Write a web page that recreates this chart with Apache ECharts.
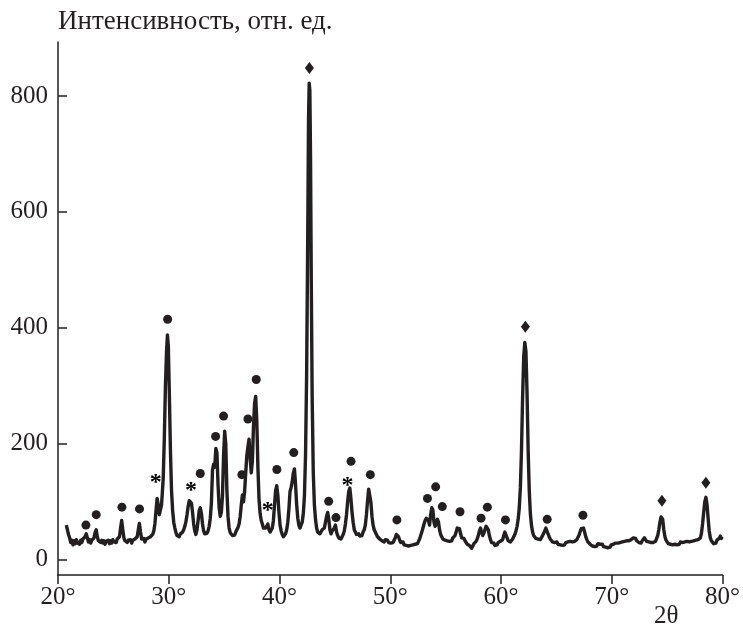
<!DOCTYPE html>
<html>
<head>
<meta charset="utf-8">
<title>XRD</title>
<script src="https://cdn.jsdelivr.net/npm/echarts@6/dist/echarts.min.js"></script>
<style>
  html, body { margin: 0; padding: 0; background: #fff; }
  #chart { width: 743px; height: 626px; }
</style>
</head>
<body>
<div id="chart"></div>
<script>
  // скан 2θ / интенсивность
  const scanA = [
    [20.75, 60], [20.85, 52], [20.95, 44], [21.05, 38], [21.15, 30], [21.25, 34], [21.35, 26], [21.45, 33],
    [21.55, 28], [21.65, 35], [21.75, 29], [21.85, 32], [21.95, 27], [22.05, 34], [22.15, 30], [22.25, 36],
    [22.35, 33], [22.45, 40], [22.55, 45], [22.65, 38], [22.75, 31], [22.85, 35], [22.95, 29], [23.05, 34],
    [23.15, 31], [23.25, 38], [23.35, 47], [23.45, 52], [23.55, 40], [23.65, 33], [23.75, 36], [23.85, 30],
    [23.95, 34], [24.05, 29], [24.15, 33], [24.25, 27], [24.35, 32], [24.45, 30], [24.55, 34], [24.65, 28],
    [24.75, 33], [24.85, 29], [24.95, 35], [25.05, 31], [25.15, 34], [25.25, 30], [25.35, 36], [25.45, 33],
    [25.55, 40], [25.65, 55], [25.75, 68], [25.85, 52], [25.95, 38], [26.05, 33], [26.15, 36], [26.25, 30],
    [26.35, 34], [26.45, 31], [26.55, 35], [26.65, 29], [26.75, 34], [26.85, 32], [26.95, 36], [27.05, 33],
    [27.15, 40], [27.25, 52], [27.35, 63], [27.45, 48], [27.55, 36], [27.65, 33], [27.75, 37], [27.85, 31],
    [27.95, 36], [28.05, 33], [28.15, 38], [28.25, 35], [28.35, 40], [28.45, 37], [28.55, 44], [28.65, 50],
    [28.75, 62], [28.85, 85], [28.95, 106], [29.05, 95], [29.15, 78], [29.25, 80], [29.35, 95], [29.5, 140],
    [29.6, 210], [29.7, 300], [29.8, 360], [29.88, 388], [29.96, 370]
  ]
  const scanB = [
    [30.05, 290], [30.15, 190], [30.25, 120], [30.35, 85], [30.45, 65], [30.55, 55], [30.65, 47], [30.75, 42],
    [30.85, 44], [30.95, 40], [31.05, 45], [31.15, 43], [31.25, 48], [31.35, 52], [31.45, 58], [31.55, 66],
    [31.65, 78], [31.75, 92], [31.85, 102], [31.95, 105], [32.05, 98], [32.15, 82], [32.25, 62], [32.35, 50],
    [32.45, 44], [32.55, 52], [32.65, 68], [32.75, 85], [32.85, 90], [32.95, 80], [33.05, 62], [33.15, 50],
    [33.25, 45], [33.35, 42], [33.45, 46], [33.55, 50], [33.65, 58], [33.75, 72], [33.85, 98], [33.95, 155],
    [34.05, 165], [34.15, 160], [34.25, 192], [34.35, 185], [34.45, 130], [34.55, 90], [34.65, 75], [34.75, 82],
    [34.85, 110], [34.95, 180], [35.05, 222], [35.15, 200], [35.25, 120], [35.35, 75], [35.45, 55], [35.55, 47],
    [35.65, 44], [35.75, 42], [35.85, 45], [35.95, 43], [36.05, 48], [36.15, 50], [36.25, 56], [36.35, 62],
    [36.45, 75], [36.55, 95], [36.65, 112], [36.75, 100], [36.85, 118], [36.95, 150], [37.05, 180], [37.15, 195],
    [37.25, 208], [37.35, 175], [37.45, 150], [37.55, 170], [37.65, 230], [37.75, 270], [37.85, 282], [37.95, 240],
    [38.05, 160], [38.15, 105], [38.25, 80], [38.35, 68], [38.45, 62], [38.55, 55], [38.65, 52], [38.75, 55],
    [38.85, 58], [38.95, 62], [39.05, 52], [39.15, 48], [39.25, 50], [39.35, 55], [39.45, 68], [39.55, 95],
    [39.65, 120], [39.75, 128], [39.85, 112], [39.95, 82], [40.05, 60], [40.15, 50], [40.25, 44], [40.35, 40],
    [40.45, 42], [40.55, 45], [40.65, 52], [40.75, 65], [40.85, 88], [40.95, 118], [41.05, 125], [41.15, 135],
    [41.25, 150], [41.35, 157], [41.45, 130], [41.55, 95], [41.65, 72], [41.75, 60], [41.85, 55], [41.95, 58],
    [42.05, 65], [42.15, 80], [42.25, 110], [42.35, 180], [42.45, 320], [42.55, 560], [42.62, 760], [42.68, 822],
    [42.74, 810], [42.8, 700], [42.87, 480], [42.95, 280]
  ]
  const scanC = [
    [43.05, 150], [43.15, 95], [43.25, 70], [43.35, 55], [43.45, 48], [43.55, 46], [43.65, 45], [43.75, 48],
    [43.85, 52], [43.95, 50], [44.05, 55], [44.15, 65], [44.25, 75], [44.35, 82], [44.45, 70], [44.55, 52],
    [44.65, 45], [44.75, 50], [44.85, 47], [44.95, 55], [45.05, 60], [45.15, 48], [45.25, 42], [45.35, 38],
    [45.45, 35], [45.55, 36], [45.65, 40], [45.75, 44], [45.85, 50], [45.95, 62], [46.05, 78], [46.15, 100],
    [46.25, 118], [46.35, 124], [46.45, 105], [46.55, 82], [46.65, 65], [46.75, 52], [46.85, 48], [46.95, 44],
    [47.05, 42], [47.15, 45], [47.25, 41], [47.35, 44], [47.45, 42], [47.55, 48], [47.65, 52], [47.75, 60],
    [47.85, 78], [47.95, 102], [48.05, 122], [48.15, 120], [48.25, 100], [48.35, 75], [48.45, 60], [48.55, 52],
    [48.65, 48], [48.75, 44], [48.85, 40], [48.95, 42], [49.05, 36], [49.15, 38], [49.25, 33], [49.35, 36],
    [49.45, 31], [49.55, 35], [49.65, 32], [49.75, 34], [49.85, 30], [49.95, 33], [50.05, 29], [50.15, 32],
    [50.25, 30], [50.35, 34], [50.45, 38], [50.55, 44], [50.65, 46], [50.75, 40], [50.85, 34], [50.95, 30],
    [51.05, 28], [51.15, 31], [51.25, 26], [51.35, 29], [51.45, 25], [51.55, 28], [51.65, 24], [51.75, 27],
    [51.85, 25], [51.95, 28], [52.05, 26], [52.15, 29], [52.25, 27], [52.35, 30], [52.45, 28], [52.55, 32],
    [52.65, 36], [52.75, 42], [52.85, 48], [52.95, 55], [53.05, 62], [53.15, 68], [53.25, 72], [53.35, 75],
    [53.45, 68], [53.55, 60], [53.65, 78], [53.75, 90], [53.85, 86], [53.95, 65], [54.05, 58], [54.15, 62],
    [54.25, 70], [54.35, 66], [54.45, 52], [54.55, 44], [54.65, 40], [54.75, 36], [54.85, 38], [54.95, 34],
    [55.05, 37], [55.15, 33], [55.25, 36], [55.35, 32], [55.45, 35], [55.55, 33], [55.65, 38], [55.75, 36],
    [55.85, 42], [55.95, 48], [56.05, 55], [56.15, 58], [56.25, 54], [56.35, 45], [56.45, 38], [56.55, 35],
    [56.65, 37], [56.75, 33], [56.85, 30], [56.95, 27], [57.05, 30], [57.15, 25], [57.25, 22], [57.35, 20],
    [57.45, 24], [57.55, 28], [57.65, 26], [57.75, 32], [57.85, 36], [57.95, 42], [58.05, 50], [58.15, 55],
    [58.25, 48], [58.35, 42], [58.45, 46], [58.55, 52], [58.65, 58], [58.75, 60], [58.85, 52], [58.95, 42],
    [59.05, 35], [59.15, 30], [59.25, 27], [59.35, 29], [59.45, 25], [59.55, 28], [59.65, 26], [59.75, 30],
    [59.85, 28], [59.95, 32], [60.05, 30], [60.15, 35], [60.25, 42], [60.35, 48], [60.45, 45], [60.55, 38],
    [60.65, 33], [60.75, 35], [60.85, 31], [60.95, 34], [61.05, 36], [61.15, 40], [61.25, 44], [61.35, 50],
    [61.45, 58], [61.55, 70], [61.65, 90], [61.75, 125], [61.85, 190], [61.95, 280]
  ]
  const scanD = [
    [62.05, 350], [62.15, 375], [62.25, 360], [62.35, 290], [62.45, 190], [62.55, 120], [62.65, 80], [62.75, 60],
    [62.85, 48], [62.95, 42], [63.05, 40], [63.15, 37], [63.25, 40], [63.35, 36], [63.45, 39], [63.55, 35],
    [63.65, 38], [63.75, 42], [63.85, 45], [63.95, 50], [64.05, 55], [64.15, 52], [64.25, 45], [64.35, 40],
    [64.45, 36], [64.55, 33], [64.65, 31], [64.75, 34], [64.85, 30], [64.95, 28], [65.05, 31], [65.15, 27],
    [65.25, 30], [65.35, 26], [65.45, 29], [65.55, 25], [65.65, 28], [65.75, 26], [65.85, 30], [65.95, 27],
    [66.05, 31], [66.15, 28], [66.25, 32], [66.35, 29], [66.45, 31], [66.55, 28], [66.65, 32], [66.75, 33],
    [66.85, 35], [66.95, 38], [67.05, 43], [67.15, 49], [67.25, 54], [67.35, 57], [67.45, 55], [67.55, 48],
    [67.65, 40], [67.75, 35], [67.85, 31], [67.95, 29], [68.05, 27], [68.15, 28], [68.25, 24], [68.35, 27],
    [68.45, 23], [68.55, 26], [68.65, 24], [68.75, 28], [68.85, 25], [68.95, 27], [69.05, 24], [69.15, 27],
    [69.25, 23], [69.35, 26], [69.45, 22], [69.55, 25], [69.65, 21], [69.75, 24], [69.85, 22], [69.95, 26],
    [70.05, 24], [70.15, 27], [70.25, 25], [70.35, 29], [70.45, 26], [70.55, 29], [70.65, 27], [70.75, 30],
    [70.85, 28], [70.95, 31], [71.05, 28], [71.15, 32], [71.25, 29], [71.35, 33], [71.45, 30], [71.55, 33],
    [71.65, 31], [71.75, 35], [71.85, 37], [71.95, 38], [72.05, 35], [72.15, 37], [72.25, 33], [72.35, 34],
    [72.45, 30], [72.55, 32], [72.65, 29], [72.75, 33], [72.85, 36], [72.95, 38], [73.05, 35], [73.15, 32],
    [73.25, 29], [73.35, 31], [73.45, 28], [73.55, 30], [73.65, 27], [73.75, 30], [73.85, 29], [73.95, 32],
    [74.05, 35], [74.15, 42], [74.25, 52], [74.35, 65], [74.45, 74], [74.52, 76], [74.6, 70], [74.7, 52],
    [74.8, 40], [74.9, 34], [75.0, 31], [75.1, 28], [75.2, 31], [75.3, 27], [75.4, 30], [75.5, 26],
    [75.6, 29], [75.7, 27], [75.8, 30], [75.9, 26], [76.0, 29], [76.1, 27], [76.2, 31], [76.3, 28],
    [76.4, 30], [76.5, 27], [76.6, 31], [76.7, 28], [76.8, 32], [76.9, 29], [77.0, 31], [77.1, 28],
    [77.2, 32], [77.3, 29], [77.4, 33], [77.5, 30], [77.6, 34], [77.7, 31], [77.8, 35], [77.9, 33],
    [78.0, 38], [78.1, 46], [78.2, 62], [78.3, 82], [78.4, 100], [78.5, 108], [78.6, 96], [78.7, 72],
    [78.8, 50], [78.9, 38], [79.0, 33], [79.1, 30], [79.2, 28], [79.3, 31], [79.4, 29], [79.5, 34],
    [79.6, 31], [79.7, 37], [79.8, 41], [79.9, 37], [79.95, 40]
  ]

  // метки фаз над пиками
  const circlePeaks = [
    [22.52, 60], [23.45, 78], [25.77, 91], [27.36, 88], [29.9, 415], [32.85, 149], [34.23, 213], [34.95, 248],
    [36.6, 147], [37.15, 243], [37.9, 311], [39.76, 156], [41.29, 185], [44.44, 101], [45.1, 73], [46.46, 170],
    [48.2, 147], [50.6, 69], [53.36, 106], [54.1, 126], [54.7, 92], [56.3, 83], [58.2, 72], [58.77, 91],
    [60.4, 69], [64.17, 70], [67.4, 77]
  ]
  const diamondPeaks = [[42.7, 848], [62.2, 402], [74.53, 102], [78.5, 133]]
  const starPeaks = [[28.83, 141], [32.0, 128], [38.95, 94], [46.15, 137]]

  const yTicks = [0, 200, 400, 600, 800]
  const ink = '#231f20'
  const serif = '"Liberation Serif", "DejaVu Serif", serif'

  const chart = echarts.init(document.getElementById('chart'))
  chart.setOption({
    animation: false,
    grid: {left: 58, right: 19, top: 42, bottom: 51},
    xAxis: {
      type: 'value',
      min: 20,
      max: 80,
      interval: 10,
      axisLine: {onZero: false, lineStyle: {color: ink, width: 1.5}},
      axisTick: {length: 9, lineStyle: {color: ink, width: 1.5}},
      axisLabel: {
        formatter: '{value}°',
        fontFamily: serif,
        fontSize: 25,
        color: ink,
        margin: 10
      },
      splitLine: {show: false}
    },
    yAxis: {
      type: 'value',
      min: -26,
      max: 893,
      name: 'Интенсивность, отн. ед.',
      nameLocation: 'end',
      nameGap: 7,
      nameTextStyle: {align: 'left', fontFamily: serif, fontSize: 27, color: ink},
      axisLine: {show: true, lineStyle: {color: ink, width: 1.5}},
      axisTick: {show: true, inside: true, length: 9, customValues: yTicks, lineStyle: {color: ink, width: 1.5}},
      axisLabel: {customValues: yTicks, fontFamily: serif, fontSize: 25, color: ink, margin: 10},
      splitLine: {show: false}
    },
    graphic: [
      {
        type: 'text',
        left: 654,
        top: 604,
        style: {text: '2θ', font: '25px ' + serif, fill: ink}
      }
    ],
    series: [
      {
        type: 'line',
        data: scanA.concat(scanB, scanC, scanD),
        symbol: 'none',
        lineStyle: {color: ink, width: 3.4, join: 'round'},
        z: 2
      },
      {
        type: 'scatter',
        data: circlePeaks,
        symbol: 'circle',
        symbolSize: 9,
        itemStyle: {color: ink, opacity: 1},
        z: 3
      },
      {
        type: 'scatter',
        data: diamondPeaks,
        symbol: 'diamond',
        symbolSize: [9, 12],
        itemStyle: {color: ink, opacity: 1},
        z: 3
      },
      {
        type: 'scatter',
        data: starPeaks,
        symbolSize: 1,
        itemStyle: {color: 'rgba(255,255,255,0)', opacity: 1},
        label: {
          show: true,
          position: 'inside',
          formatter: '*',
          fontFamily: serif,
          fontSize: 24,
          fontWeight: 'bold',
          color: '#000',
          offset: [0, 5]
        },
        z: 3
      }
    ]
  })
</script>
</body>
</html>
